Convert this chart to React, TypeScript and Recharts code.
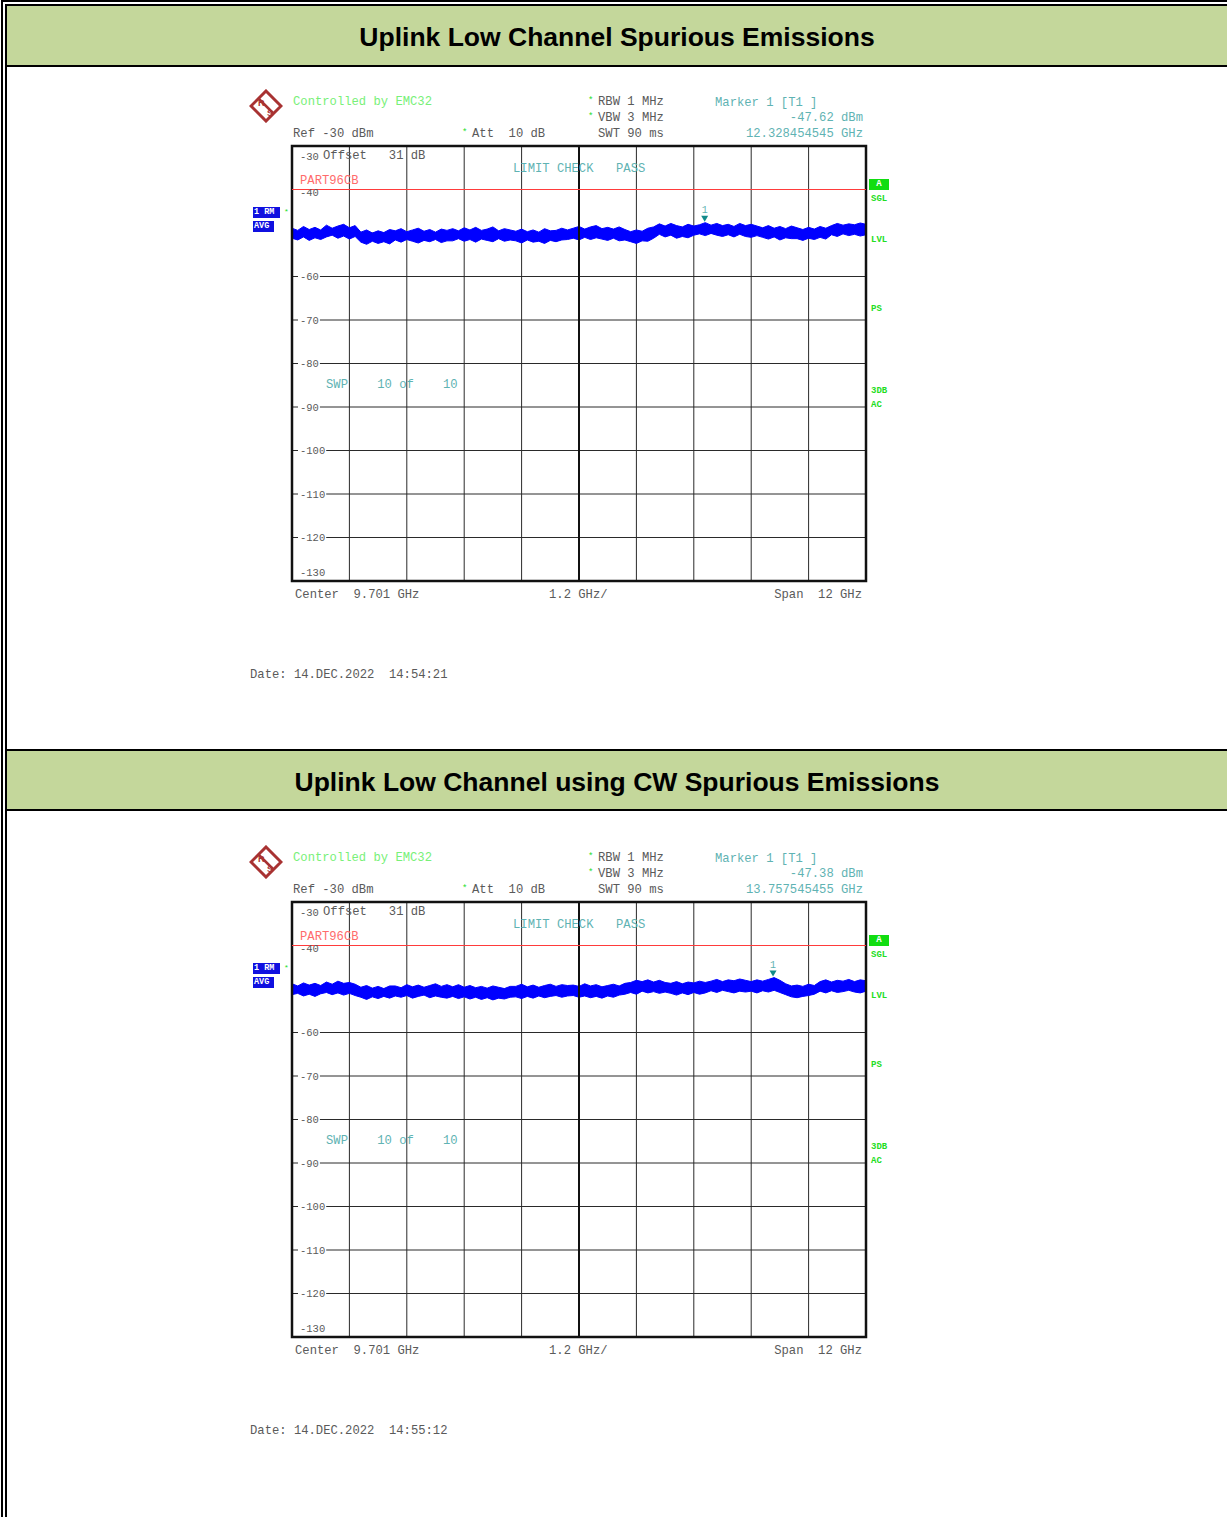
import React from 'react';
import { ComposedChart, Area, XAxis, YAxis, CartesianGrid, ReferenceLine, ReferenceDot, ReferenceArea } from 'recharts';

// ---------- data ----------
const freqGHz = [
  3.701, 3.821, 3.941, 4.061, 4.181, 4.301, 4.421, 4.541, 4.661, 4.781,
  4.901, 5.021, 5.141, 5.261, 5.381, 5.501, 5.621, 5.741, 5.861, 5.981,
  6.101, 6.221, 6.341, 6.461, 6.581, 6.701, 6.821, 6.941, 7.061, 7.181,
  7.301, 7.421, 7.541, 7.661, 7.781, 7.901, 8.021, 8.141, 8.261, 8.381,
  8.501, 8.621, 8.741, 8.861, 8.981, 9.101, 9.221, 9.341, 9.461, 9.581,
  9.701, 9.821, 9.941, 10.061, 10.181, 10.301, 10.421, 10.541, 10.661, 10.781,
  10.901, 11.021, 11.141, 11.261, 11.381, 11.501, 11.621, 11.741, 11.861, 11.981,
  12.101, 12.221, 12.341, 12.461, 12.581, 12.701, 12.821, 12.941, 13.061, 13.181,
  13.301, 13.421, 13.541, 13.661, 13.781, 13.901, 14.021, 14.141, 14.261, 14.381,
  14.501, 14.621, 14.741, 14.861, 14.981, 15.101, 15.221, 15.341, 15.461, 15.581,
  15.701,
];

// Chart 1 trace envelope (dBm)
const hi1 = [
  -48.9, -49.4, -48.5, -49.2, -48.7, -49.3,
  -48.2, -48.9, -48.4, -48.0, -48.8, -48.3,
  -49.8, -49.3, -50.0, -49.5, -49.9, -49.2,
  -49.5, -49.0, -49.7, -49.3, -48.9, -49.6, -49.2, -49.8, -49.1, -49.4,
  -49.0, -49.5, -48.8, -49.3, -48.7, -49.4, -49.1, -48.6, -49.5, -49.0, -49.3,
  -49.6, -49.1, -49.7, -49.3, -49.8, -49.0, -49.5, -49.4, -48.9, -49.3,
  -48.9, -48.5, -49.1, -48.6, -48.3, -49.0, -48.7, -49.1, -48.6, -49.2,
  -49.7, -49.3, -49.6, -48.9, -48.6,
  -47.9, -48.4, -47.8, -48.3, -48.6, -48.0, -48.4,
  -48.1, -47.62, -48.2, -47.8, -48.3,
  -48.0, -48.5, -47.8, -48.3, -48.0, -48.4,
  -48.8, -48.3, -48.9, -48.5, -49.0, -48.4,
  -48.8, -49.2, -48.7, -49.1, -48.5, -48.9,
  -48.3, -47.8, -48.2, -47.9, -48.1, -47.7, -48.0,
];
const lo1 = [
  -51.2, -51.6, -50.9, -51.7, -51.1, -51.5,
  -50.9, -50.5, -51.2, -50.7, -51.4, -50.8,
  -52.1, -52.6, -51.9, -52.4, -52.0, -52.5,
  -51.6, -52.1, -51.5, -51.9, -52.3, -51.7, -52.0, -51.5, -52.2, -51.8,
  -51.8, -51.3, -51.9, -51.5, -52.1, -51.4, -51.7, -52.0, -51.3, -51.9, -51.6,
  -51.8, -52.3, -51.6, -52.1, -51.9, -52.4, -51.7, -52.0, -51.6, -51.5,
  -51.2, -51.6, -51.0, -51.5, -51.1, -51.4, -51.7, -51.2, -51.8, -51.6,
  -52.0, -52.4, -51.8, -51.9, -51.2,
  -50.3, -50.9, -50.5, -51.2, -50.8, -51.1, -50.5,
  -50.2, -50.6, -50.1, -50.5, -50.8,
  -50.4, -50.9, -50.3, -50.8, -51.0, -50.6,
  -51.0, -51.4, -50.9, -51.6, -51.1, -51.3,
  -51.3, -51.7, -51.2, -51.5, -51.0, -51.4,
  -50.4, -50.8, -50.2, -50.6, -50.3, -50.7, -50.4,
];

// Chart 2 trace envelope (dBm)
const hi2 = [
  -48.8, -49.3, -48.6, -49.1, -48.7, -49.2,
  -48.4, -48.9, -48.2, -48.7, -48.5, -48.9,
  -49.6, -49.2, -49.8, -49.4, -49.9, -49.3,
  -49.3, -49.7, -49.0, -49.5, -49.1, -49.6, -49.2, -48.8, -49.4, -49.0,
  -49.5, -49.0, -49.6, -49.2, -49.7, -49.4, -49.8, -49.3, -49.6, -49.9, -49.4,
  -49.4, -48.9, -49.5, -49.1, -49.6, -49.2, -48.9, -49.4, -49.0, -49.2,
  -49.1, -49.4, -48.8, -49.3, -49.0, -49.5, -49.2, -48.9, -49.3, -48.7,
  -48.5, -48.0, -48.3, -47.9, -48.4, -48.0, -48.5,
  -48.7, -48.3, -48.8, -48.4, -48.6, -48.2, -48.5,
  -48.2, -47.8, -48.3, -47.9, -48.1, -47.7, -48.0,
  -48.3, -47.9, -48.2, -47.8, -47.38, -48.0,
  -48.8, -49.3, -49.1, -49.4, -48.9, -49.2,
  -48.3, -47.9, -48.4, -48.0, -48.2, -47.8, -48.3, -47.9, -48.1,
];
const lo2 = [
  -51.3, -51.0, -51.6, -51.2, -51.7, -51.1,
  -50.8, -51.3, -50.9, -51.4, -51.0, -51.5,
  -51.9, -52.4, -51.8, -52.2, -51.7, -52.1,
  -51.6, -51.9, -51.5, -52.1, -51.7, -51.4, -52.0, -51.6, -51.9, -52.1,
  -51.7, -52.2, -51.8, -52.3, -51.9, -52.4, -52.0, -52.5, -52.1, -52.3, -51.9,
  -51.8, -52.2, -51.7, -52.1, -51.6, -52.0, -51.7, -51.5, -51.9, -51.6,
  -51.5, -51.9, -51.6, -52.0, -51.7, -52.1, -51.6, -51.9, -51.4, -51.2,
  -50.8, -51.2, -50.5, -50.9, -50.6, -51.0, -50.7,
  -51.0, -51.4, -50.9, -51.3, -50.8, -51.2, -50.9,
  -50.4, -50.8, -50.3, -50.6, -50.9, -50.5, -50.7,
  -50.5, -50.9, -50.4, -50.7, -50.3, -50.8,
  -51.3, -51.8, -52.0, -51.7, -51.5, -51.2,
  -50.5, -50.9, -50.4, -50.8, -50.6, -50.3, -50.7, -50.9, -50.5,
];

const xTicks = [3.701, 4.901, 6.101, 7.301, 8.501, 9.701, 10.901, 12.101, 13.301, 14.501, 15.701];
const yTicks = [-130, -120, -110, -100, -90, -80, -70, -60, -50, -40, -30];
const yTickLabels = ['-130', '-120', '-110', '-100', '-90', '-80', '-70', '-60', '', '-40', '-30'];

const limitLevel = -40;
const limitName = 'PART96CB';
const centerFreq = 9.701;

const titles = ['Uplink Low Channel Spurious Emissions', 'Uplink Low Channel using CW Spurious Emissions'];
const markerFreqs = [12.328454545, 13.757545455];
const markerLevels = [-47.62, -47.38];
const markerFreqLabels = ['12.328454545 GHz', '13.757545455 GHz'];
const markerLevelLabels = ['-47.62 dBm', '-47.38 dBm'];
const dates = ['Date: 14.DEC.2022  14:54:21', 'Date: 14.DEC.2022  14:55:12'];

const traces = [
  freqGHz.map((f, i) => ({ f, hi: hi1[i], lo: lo1[i] })),
  freqGHz.map((f, i) => ({ f, hi: hi2[i], lo: lo2[i] })),
];

// ---------- styles ----------
const MONO = '"Liberation Mono", "DejaVu Sans Mono", monospace';
const GRAY = '#5a5a5a';
const TEAL = '#5fb3b3';
const LGREEN = '#78f078';
const SGREEN = '#22dd22';
const RED = '#ff3b3b';
const BLUE = '#0000ff';

const PLOT_LEFT = 52; // chart-local

const T = ({ x, y, color = GRAY, size = 12.2, right = false, bold = false, children }: any) => (
  <span
    style={{
      position: 'absolute',
      left: right ? undefined : x,
      right: right ? 1227 - x : undefined,
      top: y - 6,
      lineHeight: '14px',
      fontSize: size,
      fontFamily: MONO,
      color,
      whiteSpace: 'pre',
      fontWeight: bold ? 'bold' : 'normal',
    }}
  >
    {children}
  </span>
);

const YTick = (props: any) => {
  const { y, payload } = props;
  const v = payload && payload.value;
  const idx = yTicks.indexOf(v);
  const label = idx >= 0 ? yTickLabels[idx] : '';
  if (!label) return <g />;
  let ty = y;
  if (v === -30) ty = y + 10;
  if (v === -130) ty = y - 9;
  if (v === -40) ty = y + 3;
  const w = label.length * 6.3 + 3;
  const mid = v !== -30 && v !== -130 && v !== -40;
  return (
    <g>
      {mid && <rect x={PLOT_LEFT + 6} y={y - 4} width={w} height={8} fill="#fff" />}
      <text x={PLOT_LEFT + 8} y={ty} dy={3.5} fontSize={10.5} fontFamily={MONO} fill={GRAY} textAnchor="start">
        {label}
      </text>
    </g>
  );
};

const MarkerShape = (props: any) => {
  const { cx, cy } = props;
  return (
    <g>
      <path d={`M${cx - 3.5},${cy - 7} L${cx + 3.5},${cy - 7} L${cx},${cy - 1} Z`} fill="#128a8a" />
      <text x={cx} y={cy - 10} textAnchor="middle" fontSize={10} fontFamily={MONO} fill={TEAL}>1</text>
    </g>
  );
};

const Logo = ({ y }: { y: number }) => (
  <svg style={{ position: 'absolute', left: 249, top: y }} width={34} height={34}>
    <polygon points="17,2 32,17 17,32 2,17" fill="#fff" stroke="#a83232" strokeWidth={3} />
    <line x1={10} y1={10} x2={24} y2={24} stroke="#a83232" strokeWidth={2.5} />
    <text x={9} y={17} fontSize={9} fontFamily="Liberation Sans" fontWeight="bold" fill="#a83232">R</text>
    <text x={18} y={27} fontSize={9} fontFamily="Liberation Sans" fontWeight="bold" fill="#a83232">S</text>
  </svg>
);

const Spectrum = ({ k, off }: { k: number; off: number }) => {
  const data = traces[k];
  return (
    <>
      <Logo y={89 + off} />
      <T x={293} y={101 + off} color={LGREEN}>Controlled by EMC32</T>
      <T x={588} y={100 + off} color={SGREEN} size={9}>*</T>
      <T x={598} y={101 + off}>RBW 1 MHz</T>
      <T x={588} y={116 + off} color={SGREEN} size={9}>*</T>
      <T x={598} y={117 + off}>VBW 3 MHz</T>
      <T x={598} y={133 + off}>SWT 90 ms</T>
      <T x={715} y={102 + off} color={TEAL}>Marker 1 [T1 ]</T>
      <T x={863} y={117 + off} color={TEAL} right>{markerLevelLabels[k]}</T>
      <T x={863} y={133 + off} color={TEAL} right>{markerFreqLabels[k]}</T>
      <T x={293} y={133 + off}>Ref -30 dBm</T>
      <T x={462} y={132 + off} color={SGREEN} size={9}>*</T>
      <T x={472} y={133 + off}>Att  10 dB</T>

      <div style={{ position: 'absolute', left: 240, top: 80 + off, width: 680, height: 620 }}>
        <ComposedChart width={680} height={620} data={data} margin={{ top: 66, right: 54, bottom: 119, left: 52 }}>
          <XAxis dataKey="f" type="number" domain={[3.701, 15.701]} ticks={xTicks} hide allowDataOverflow />
          <YAxis
            type="number"
            domain={[-130, -30]}
            ticks={yTicks}
            interval={0}
            width={40}
            mirror
            axisLine={false}
            tickLine={false}
            tick={(p: any) => <YTick {...p} />}
            allowDataOverflow
          />
          <CartesianGrid stroke="#2a2a2a" strokeWidth={1} verticalValues={xTicks} horizontalValues={yTicks} />
          <ReferenceLine x={centerFreq} stroke="#111" strokeWidth={2} />
          <Area
            dataKey={(d: any) => [d.lo, d.hi]}
            type="linear"
            stroke={BLUE}
            strokeWidth={1}
            fill={BLUE}
            fillOpacity={1}
            dot={false}
            activeDot={false}
            isAnimationActive={false}
          />
          <ReferenceLine y={limitLevel} stroke={RED} strokeWidth={1} />
          <ReferenceDot x={markerFreqs[k]} y={markerLevels[k]} shape={<MarkerShape />} />
          <ReferenceArea x1={3.701} x2={15.701} y1={-130} y2={-30} fill="none" stroke="#111" strokeWidth={2.5} />
        </ComposedChart>
      </div>

      <T x={323} y={155 + off}>Offset   31 dB</T>
      <T x={513} y={168 + off} color={TEAL}>LIMIT CHECK</T>
      <T x={616} y={168 + off} color={TEAL}>PASS</T>
      <T x={300} y={180 + off} color="#ff6b6b">{limitName}</T>
      <T x={326} y={384 + off} color={TEAL}>SWP    10 of    10</T>

      {/* left trace indicator */}
      <div style={{ position: 'absolute', left: 253, top: 207 + off, width: 27, height: 11, background: '#1010e0', color: '#fff', fontFamily: MONO, fontSize: 8.5, lineHeight: '11px', fontWeight: 'bold', whiteSpace: 'pre', paddingLeft: 1, boxSizing: 'border-box' }}>1 RM</div>
      <T x={284} y={211 + off} color={SGREEN} size={8}>*</T>
      <div style={{ position: 'absolute', left: 253, top: 221 + off, width: 21, height: 11, background: '#1010e0', color: '#fff', fontFamily: MONO, fontSize: 8.5, lineHeight: '11px', fontWeight: 'bold', paddingLeft: 1, boxSizing: 'border-box' }}>AVG</div>

      {/* right status labels */}
      <div style={{ position: 'absolute', left: 869, top: 179 + off, width: 20, height: 11, background: '#11dd11', color: '#fff', fontFamily: MONO, fontSize: 9, lineHeight: '11px', fontWeight: 'bold', textAlign: 'center' }}>A</div>
      <T x={871} y={198 + off} color={SGREEN} size={9} bold>SGL</T>
      <T x={871} y={239 + off} color={SGREEN} size={9} bold>LVL</T>
      <T x={871} y={308 + off} color={SGREEN} size={9} bold>PS</T>
      <T x={871} y={390 + off} color={SGREEN} size={9} bold>3DB</T>
      <T x={871} y={404 + off} color={SGREEN} size={9} bold>AC</T>

      <T x={295} y={594 + off}>Center  9.701 GHz</T>
      <T x={549} y={594 + off}>1.2 GHz/</T>
      <T x={862} y={594 + off} right>Span  12 GHz</T>
      <T x={250} y={674 + off}>{dates[k]}</T>
    </>
  );
};

const Header = ({ top, height, title }: { top: number; height: number; title: string }) => (
  <div
    style={{
      position: 'absolute',
      left: 7,
      top,
      width: 1220,
      height,
      background: '#c4d79b',
      borderTop: '2px solid #000',
      borderBottom: '2px solid #000',
      boxSizing: 'border-box',
      display: 'flex',
      alignItems: 'center',
      justifyContent: 'center',
      paddingTop: 4,
      fontFamily: '"Liberation Sans", Arial, sans-serif',
      fontWeight: 'bold',
      fontSize: 26.5,
      color: '#000',
    }}
  >
    {title}
  </div>
);

export default function App() {
  return (
    <div style={{ position: 'absolute', left: 0, top: 0, width: 1227, height: 1517, background: '#fff', overflow: 'hidden' }}>
      <div style={{ position: 'absolute', left: 1, top: 0, width: 1226, height: 2, background: '#000' }} />
      <div style={{ position: 'absolute', left: 1, top: 0, width: 2, height: 1517, background: '#000' }} />
      <div style={{ position: 'absolute', left: 5, top: 4, width: 2, height: 1513, background: '#000' }} />
      <Header top={4} height={63} title={titles[0]} />
      <Header top={749} height={62} title={titles[1]} />
      <Spectrum k={0} off={0} />
      <Spectrum k={1} off={756} />
    </div>
  );
}
